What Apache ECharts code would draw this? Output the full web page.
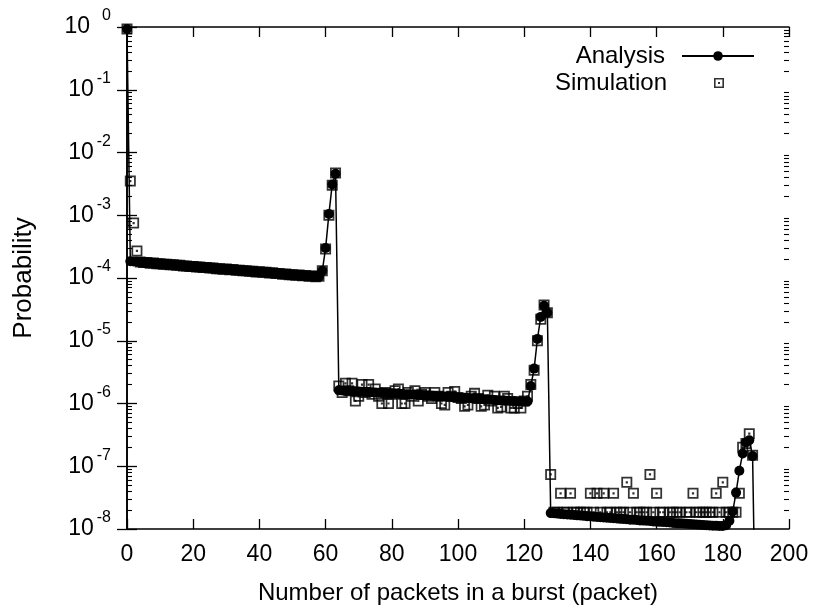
<!DOCTYPE html>
<html>
<head>
<meta charset="utf-8">
<script src="https://cdn.jsdelivr.net/npm/echarts@6.0.0/dist/echarts.min.js"></script>
<style>
    html, body { margin: 0; padding: 0; background: #fff; }
    #chart { width: 814px; height: 614px; }
</style>
</head>
<body>
<div id="chart"></div>
<script>
// analysis curve, x = 0 .. 190 (one value per burst size)
const analysisHead = [0.93];
const analysisRun1 = [ // x = 1 .. 58
    1.85e-4, 1.83e-4, 1.81e-4, 1.79e-4, 1.77e-4, 1.75e-4, 1.74e-4, 1.72e-4, 1.70e-4, 1.68e-4,
    1.67e-4, 1.65e-4, 1.63e-4, 1.62e-4, 1.60e-4, 1.58e-4, 1.57e-4, 1.55e-4, 1.54e-4, 1.52e-4,
    1.51e-4, 1.49e-4, 1.48e-4, 1.46e-4, 1.45e-4, 1.43e-4, 1.42e-4, 1.40e-4, 1.39e-4, 1.38e-4,
    1.36e-4, 1.35e-4, 1.34e-4, 1.32e-4, 1.31e-4, 1.30e-4, 1.28e-4, 1.27e-4, 1.26e-4, 1.25e-4,
    1.23e-4, 1.22e-4, 1.21e-4, 1.20e-4, 1.19e-4, 1.17e-4, 1.16e-4, 1.15e-4, 1.14e-4, 1.13e-4,
    1.12e-4, 1.11e-4, 1.10e-4, 1.09e-4, 1.08e-4, 1.07e-4, 1.06e-4, 1.05e-4
];
const analysisPeak1 = [1.3e-4, 3.0e-4, 1.05e-3, 3.1e-3, 4.6e-3]; // x = 59 .. 63
const analysisRun2 = [ // x = 64 .. 121
    1.62e-6, 1.61e-6, 1.60e-6, 1.59e-6, 1.58e-6, 1.57e-6, 1.55e-6, 1.54e-6, 1.53e-6, 1.52e-6,
    1.51e-6, 1.50e-6, 1.49e-6, 1.48e-6, 1.47e-6, 1.46e-6, 1.45e-6, 1.44e-6, 1.43e-6, 1.42e-6,
    1.41e-6, 1.40e-6, 1.39e-6, 1.38e-6, 1.37e-6, 1.36e-6, 1.35e-6, 1.34e-6, 1.33e-6, 1.32e-6,
    1.31e-6, 1.30e-6, 1.29e-6, 1.28e-6, 1.27e-6, 1.26e-6, 1.25e-6, 1.24e-6, 1.23e-6, 1.22e-6,
    1.21e-6, 1.20e-6, 1.19e-6, 1.18e-6, 1.17e-6, 1.16e-6, 1.15e-6, 1.14e-6, 1.13e-6, 1.12e-6,
    1.11e-6, 1.11e-6, 1.10e-6, 1.10e-6, 1.09e-6, 1.09e-6, 1.08e-6, 1.08e-6
];
const analysisPeak2 = [1.9e-6, 3.6e-6, 1.07e-5, 2.4e-5, 3.6e-5, 2.8e-5]; // x = 122 .. 127
const analysisRun3 = [ // x = 128 .. 180
    1.80e-8, 1.78e-8, 1.76e-8, 1.74e-8, 1.72e-8, 1.71e-8, 1.69e-8, 1.67e-8, 1.65e-8, 1.64e-8,
    1.62e-8, 1.60e-8, 1.59e-8, 1.57e-8, 1.56e-8, 1.54e-8, 1.53e-8, 1.51e-8, 1.50e-8, 1.48e-8,
    1.47e-8, 1.45e-8, 1.44e-8, 1.43e-8, 1.41e-8, 1.40e-8, 1.39e-8, 1.37e-8, 1.36e-8, 1.35e-8,
    1.34e-8, 1.32e-8, 1.31e-8, 1.30e-8, 1.29e-8, 1.28e-8, 1.27e-8, 1.25e-8, 1.24e-8, 1.23e-8,
    1.22e-8, 1.21e-8, 1.20e-8, 1.19e-8, 1.18e-8, 1.17e-8, 1.16e-8, 1.15e-8, 1.14e-8, 1.13e-8,
    1.13e-8, 1.12e-8, 1.12e-8
];
const analysisPeak3 = [1.15e-8, 1.35e-8, 1.9e-8, 3.8e-8, 8.5e-8, 1.6e-7, 2.4e-7, 2.6e-7, 1.45e-7, 1e-10]; // x = 181 .. 190

// simulation points, x = 0 .. 189 (null = nothing counted)
const simulationHead = [0.93, 3.5e-3, 7.5e-4, 2.7e-4]; // x = 0 .. 3
const simulationRun1 = [ // x = 4 .. 58
    1.80e-4, 1.76e-4, 1.77e-4, 1.72e-4, 1.73e-4, 1.69e-4, 1.69e-4, 1.66e-4, 1.66e-4, 1.62e-4,
    1.63e-4, 1.59e-4, 1.59e-4, 1.56e-4, 1.56e-4, 1.53e-4, 1.53e-4, 1.50e-4, 1.50e-4, 1.47e-4,
    1.47e-4, 1.44e-4, 1.44e-4, 1.41e-4, 1.41e-4, 1.38e-4, 1.39e-4, 1.35e-4, 1.36e-4, 1.33e-4,
    1.33e-4, 1.30e-4, 1.31e-4, 1.28e-4, 1.28e-4, 1.25e-4, 1.26e-4, 1.23e-4, 1.23e-4, 1.20e-4,
    1.21e-4, 1.18e-4, 1.18e-4, 1.15e-4, 1.16e-4, 1.13e-4, 1.13e-4, 1.11e-4, 1.12e-4, 1.09e-4,
    1.10e-4, 1.07e-4, 1.08e-4, 1.05e-4, 1.07e-4
];
const simulationPeak1 = [1.3e-4, 2.9e-4, 1.0e-3, 3.0e-3, 4.7e-3]; // x = 59 .. 63
const simulationRun2 = [ // x = 64 .. 121
    1.9e-6, 1.5e-6, 2.1e-6, 1.6e-6, 2.1e-6, 1.1e-6, 1.3e-6, 2.0e-6, 1.5e-6, 2.0e-6,
    1.4e-6, 1.7e-6, 1.3e-6, 1.0e-6, 1.5e-6, 1.0e-6, 1.4e-6, 1.6e-6, 1.7e-6, 1.0e-6,
    1.0e-6, 1.5e-6, 1.3e-6, 1.6e-6, 1.1e-6, 1.4e-6, 1.5e-6, 1.3e-6, 1.2e-6, 1.5e-6,
    1.3e-6, 1.0e-6, 0.95e-6, 1.5e-6, 1.3e-6, 1.55e-6, 1.25e-6, 1.2e-6, 0.9e-6, 0.95e-6,
    1.3e-6, 1.45e-6, 1.2e-6, 0.9e-6, 0.95e-6, 1.35e-6, 1.1e-6, 1.3e-6, 0.85e-6, 0.88e-6,
    1.3e-6, 1.2e-6, 0.85e-6, 0.85e-6, 1.0e-6, 0.85e-6, 1.1e-6, 1.3e-6
];
const simulationPeak2 = [2.0e-6, 3.4e-6, 1.0e-5, 2.2e-5, 3.7e-5, 2.8e-5]; // x = 122 .. 127
const simulationRun3 = [ // x = 128 .. 180
    7.4e-8,
    1.85e-8, 1.85e-8, 3.7e-8, 1.85e-8, 1.85e-8, 3.7e-8, 1.85e-8, 1.85e-8, 1.85e-8,
    1.85e-8, 1.85e-8, 3.7e-8, 1.85e-8, 3.7e-8, 1.85e-8, 3.7e-8, 1.85e-8, 1.85e-8, 3.7e-8,
    1.85e-8, 1.85e-8, 1.85e-8, 5.55e-8, 1.85e-8, 3.7e-8, 1.85e-8, 1.85e-8, 1.85e-8, 1.85e-8,
    7.4e-8, 1.85e-8, 3.7e-8, 1.85e-8, 1.85e-8, null, 1.85e-8, 1.85e-8, 1.85e-8, 1.85e-8,
    null, 1.85e-8, 1.85e-8, 3.7e-8, 1.85e-8, 1.85e-8, 1.85e-8, 1.85e-8, 1.85e-8, 1.85e-8,
    3.7e-8, 1.85e-8, 5.55e-8
];
const simulationPeak3 = [1.85e-8, 1.85e-8, 1.85e-8, 1.85e-8, 3.7e-8, 2.0e-7, 2.3e-7, 3.3e-7, 1.5e-7]; // x = 181 .. 189

const xTicks = [0, 20, 40, 60, 80, 100, 120, 140, 160, 180, 200];

const analysis = [].concat(analysisHead, analysisRun1, analysisPeak1, analysisRun2, analysisPeak2, analysisRun3, analysisPeak3);
const simulation = [].concat(simulationHead, simulationRun1, simulationPeak1, simulationRun2, simulationPeak2, simulationRun3, simulationPeak3);

function toPoints(values) {
    let points = [];
    values.forEach((v, x) => {
        if (v !== null) points.push([x, v]);
    });
    return points;
}

// gnuplot style minor ticks 2..9 in each decade
let minorTicks = [];
for (let e = -8; e < 0; e++) {
    for (let m = 2; m <= 9; m++) minorTicks.push(Number((m * Math.pow(10, e)).toPrecision(3)));
}

const font = "'Liberation Sans', Arial, sans-serif";
const ink = '#000';
// open box with a centre dot, like the gnuplot point
const boxSymbol = 'path://M0,0H100V100H0Z M16,16V84H84V16Z M40,40H60V60H40Z';

let chart = echarts.init(document.getElementById('chart'), null, { renderer: 'canvas' });

function yAxisBase(position) {
    return {
        type: 'log',
        logBase: 10,
        position: position,
        min: 1e-8,
        max: 1,
        interval: 1,
        axisLine: { show: false },
        axisLabel: { show: false },
        splitLine: { show: false },
        axisTick: { show: false }
    };
}

let yMain = yAxisBase('left');
yMain.axisLine = { show: true, lineStyle: { color: ink, width: 1.6 } };
yMain.axisTick = { show: true, inside: true, length: 10, lineStyle: { color: ink, width: 1.3 } };
yMain.axisLabel = {
    show: true,
    margin: 16,
    formatter: v => {
        let e = Math.round(Math.log10(v));
        return e === 0 ? '{b|10}{z|0}' : '{b|10}{s|' + e + '}';
    },
    rich: {
        b: { fontFamily: font, fontSize: 23, lineHeight: 38, color: ink },
        s: { fontFamily: font, fontSize: 16, lineHeight: 16, verticalAlign: 'top', padding: [0, 0, 0, 3], color: ink },
        z: { fontFamily: font, fontSize: 16, lineHeight: 16, verticalAlign: 'top', padding: [0, 0, 0, 12], color: ink }
    }
};
yMain.name = 'Probability';
yMain.nameLocation = 'middle';
yMain.nameGap = 90;
yMain.nameTextStyle = { fontFamily: font, fontSize: 26, color: ink };

let yRight = yAxisBase('right');
yRight.axisLine = { show: true, lineStyle: { color: ink, width: 1.6 } };
yRight.axisTick = { show: true, inside: true, length: 10, lineStyle: { color: ink, width: 1.3 } };

let yMinorLeft = yAxisBase('left');
yMinorLeft.axisTick = { show: true, inside: true, length: 5, customValues: minorTicks, lineStyle: { color: ink, width: 1.1 } };
let yMinorRight = yAxisBase('right');
yMinorRight.axisTick = { show: true, inside: true, length: 5, customValues: minorTicks, lineStyle: { color: ink, width: 1.1 } };

chart.setOption({
    animation: false,
    backgroundColor: '#fff',
    grid: {
        left: 127,
        right: 25,
        top: 27,
        bottom: 85
    },
    legend: [{
        data: ['Analysis'],
        right: 59,
        top: 44,
        padding: 0,
        align: 'right',
        itemWidth: 72,
        itemHeight: 12,
        textStyle: { fontFamily: font, fontSize: 24, color: ink, padding: [0, 12, 0, 0] }
    }, {
        data: ['Simulation'],
        right: 90,
        top: 71,
        padding: 0,
        align: 'right',
        itemWidth: 10,
        itemHeight: 10,
        textStyle: { fontFamily: font, fontSize: 24, color: ink, padding: [0, 42, 0, 0] }
    }],
    xAxis: [{
        type: 'value',
        position: 'bottom',
        min: xTicks[0],
        max: xTicks[xTicks.length - 1],
        interval: 20,
        axisLine: { lineStyle: { color: ink, width: 1.6 } },
        axisTick: { inside: true, length: 10, lineStyle: { color: ink, width: 1.3 } },
        axisLabel: { margin: 14, fontFamily: font, fontSize: 23, color: ink },
        splitLine: { show: false },
        name: 'Number of packets in a burst (packet)',
        nameLocation: 'middle',
        nameGap: 52,
        nameTextStyle: { fontFamily: font, fontSize: 24, color: ink }
    }, {
        type: 'value',
        position: 'top',
        min: xTicks[0],
        max: xTicks[xTicks.length - 1],
        interval: 20,
        axisLine: { lineStyle: { color: ink, width: 1.6 } },
        axisTick: { inside: true, length: 10, lineStyle: { color: ink, width: 1.3 } },
        axisLabel: { show: false },
        splitLine: { show: false }
    }],
    yAxis: [yMain, yRight, yMinorLeft, yMinorRight],
    series: [{
        name: 'Analysis',
        type: 'line',
        xAxisIndex: 0,
        yAxisIndex: 0,
        data: toPoints(analysis),
        symbol: 'circle',
        symbolSize: 10,
        showSymbol: true,
        showAllSymbol: true,
        itemStyle: { color: ink },
        lineStyle: { color: ink, width: 1.5 },
        emphasis: { disabled: true },
        z: 2
    }, {
        name: 'Simulation',
        type: 'scatter',
        xAxisIndex: 0,
        yAxisIndex: 0,
        data: toPoints(simulation),
        symbol: boxSymbol,
        symbolSize: 11,
        itemStyle: { color: ink },
        emphasis: { disabled: true },
        z: 3
    }]
});
</script>
</body>
</html>
